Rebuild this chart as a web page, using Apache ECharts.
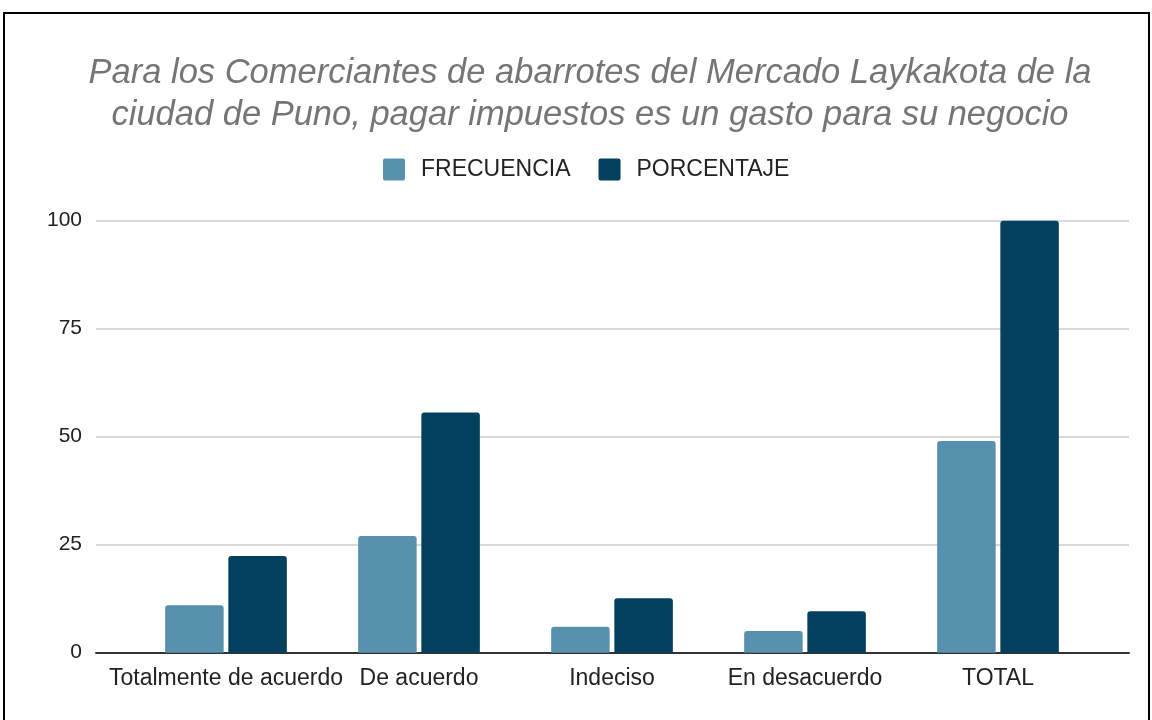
<!DOCTYPE html>
<html>
<head>
<meta charset="utf-8">
<style>
  html, body { margin: 0; padding: 0; background: #fff; }
  #chart { width: 1152px; height: 720px; }
</style>
<script src="https://cdn.jsdelivr.net/npm/echarts@6/dist/echarts.min.js"></script>
</head>
<body>
<div id="chart"></div>
<script>
// categorias y valores
const categories = ['Totalmente de acuerdo', 'De acuerdo', 'Indeciso', 'En desacuerdo', 'TOTAL']
const frecuencia = [11, 27, 6, 5, 49]
const porcentaje = [22.4, 55.6, 12.6, 9.6, 100]
const yTicks = [0, 25, 50, 75, 100]

const FONT = "'Liberation Sans', Arial, sans-serif"
const legendIcon = 'path://M2,0 H20 Q22,0 22,2 V20 Q22,22 20,22 H2 Q0,22 0,20 V2 Q0,0 2,0 Z'

const chart = echarts.init(document.getElementById('chart'))

const option = {
  animation: false,
  textStyle: { fontFamily: FONT },
  title: {
    text: 'Para los Comerciantes de abarrotes del Mercado Laykakota de la\nciudad de Puno, pagar impuestos es un gasto para su negocio',
    left: 585,
    top: 47,
    textAlign: 'center',
    textStyle: {
      fontFamily: FONT,
      fontSize: 34.5,
      fontStyle: 'italic',
      fontWeight: 'normal',
      color: '#757575',
      lineHeight: 42
    }
  },
  legend: {
    data: ['FRECUENCIA', 'PORCENTAJE'],
    left: 378,
    top: 153,
    itemWidth: 22,
    itemHeight: 22,
    itemGap: 28,
    icon: legendIcon,
    textStyle: {
      fontFamily: FONT,
      fontSize: 23,
      color: '#222',
      padding: [0, 0, 0, 11]
    }
  },
  graphic: [
    {
      type: 'rect',
      shape: { x: 4, y: 13, width: 1145, height: 720 },
      style: { fill: 'none', stroke: '#000', lineWidth: 2 },
      silent: true
    }
  ],
  grid: [
    // marco: lineas de cuadricula y eje
    { left: 96, right: 23, top: 220.7, bottom: 67.3 },
    // barras
    { left: 129.5, right: 57.5, top: 220.7, bottom: 67.3 }
  ],
  xAxis: [
    {
      type: 'value',
      gridIndex: 0,
      min: 0,
      max: 1,
      axisLabel: { show: false },
      axisTick: { show: false },
      splitLine: { show: false },
      axisLine: { show: true, onZero: false, lineStyle: { color: '#333', width: 2 } }
    },
    {
      type: 'category',
      gridIndex: 1,
      data: categories,
      axisLine: { show: false },
      axisTick: { show: false },
      axisLabel: {
        interval: 0,
        margin: 14,
        fontFamily: FONT,
        fontSize: 23,
        color: '#222'
      }
    }
  ],
  yAxis: [
    {
      type: 'value',
      gridIndex: 0,
      min: yTicks[0],
      max: yTicks[yTicks.length - 1],
      interval: 25,
      axisLine: { show: false },
      axisTick: { show: false },
      axisLabel: {
        margin: 14,
        fontFamily: FONT,
        fontSize: 21,
        color: '#222'
      },
      splitLine: { lineStyle: { color: '#cccccc', width: 1.5 } }
    },
    {
      type: 'value',
      gridIndex: 1,
      min: 0,
      max: 100,
      show: false,
      splitLine: { show: false }
    }
  ],
  series: [
    {
      name: 'FRECUENCIA',
      type: 'bar',
      xAxisIndex: 1,
      yAxisIndex: 1,
      data: frecuencia,
      barWidth: 58.5,
      barGap: '8%',
      itemStyle: { color: '#5891ad', borderRadius: [3, 3, 0, 0] }
    },
    {
      name: 'PORCENTAJE',
      type: 'bar',
      xAxisIndex: 1,
      yAxisIndex: 1,
      data: porcentaje,
      barWidth: 58.5,
      barGap: '8%',
      itemStyle: { color: '#02405e', borderRadius: [3, 3, 0, 0] }
    }
  ]
}

chart.setOption(option)

window.addEventListener('resize', () => {
  chart.resize()
})
</script>
</body>
</html>
